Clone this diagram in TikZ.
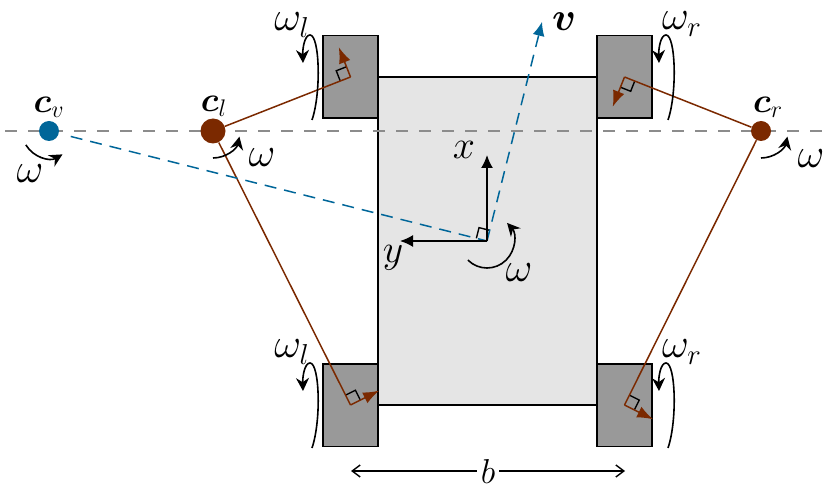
\documentclass[tikz,border=0pt]{standalone}
\usepackage{amsmath}
\usetikzlibrary{calc,arrows.meta}
\definecolor{botblue}{HTML}{006699}
\definecolor{botbrown}{HTML}{7B2900}
\tikzset{
  wheelbox/.style={draw,fill=black!40,line width=.75pt,minimum width=27.5pt,minimum height=41.25pt,inner sep=0pt},
  spin/.style={line width=.8pt,-{Stealth[length=6.5pt,width=6.5pt]}},
  link/.style={botbrown,line width=.75pt},
  label/.style={font=\LARGE,inner sep=0pt},
  omegalabel/.style={font=\huge,inner sep=0pt}
}
\begin{document}
\begin{tikzpicture}[x=.5pt,y=.5pt]
  \useasboundingbox (0,0) rectangle (829,493);

  % Body and wheels
  \node[draw,fill=black!10,line width=.75pt,minimum width=109.5pt,minimum height=164pt,inner sep=0pt] (body) at (487.5,252) {};
  \node[wheelbox] (wheelTL) at (350.5,416) {};
  \node[wheelbox] (wheelTR) at (624.5,416) {};
  \node[wheelbox] (wheelBL) at (350.5,88) {};
  \node[wheelbox] (wheelBR) at (624.5,88) {};

  % Line through the centres of rotation
  \coordinate (lineL) at (5,362);
  \coordinate (lineR) at (829,362);
  \draw[black!45,line width=.75pt,dash pattern=on 6pt off 5.5pt] (lineL) -- (lineR);

  % Centres
  \coordinate (base) at (487,252);
  \node[circle,fill=botblue,minimum size=10pt,inner sep=0pt] (cv) at (49,362) {};
  \node[circle,fill=botbrown,minimum size=12.5pt,inner sep=0pt] (cl) at (213,362) {};
  \node[circle,fill=botbrown,minimum size=10pt,inner sep=0pt] (cr) at (761,362) {};

  % Links and wheel velocities
  \foreach \w/\c in {wheelTL/cl,wheelBL/cl,wheelTR/cr,wheelBR/cr}{
    \coordinate (\w tip) at ($(\w.center)!16pt!-90:(\c)$);
    \coordinate (\w a) at ($(\w.center)!5.5pt!(\c)$);
    \coordinate (\w b) at ($(\w.center)!5.5pt!(\w tip)$);
    \draw[line width=.7pt] (\w a) -- ($(\w a)+(\w b)-(\w.center)$) -- (\w b);
    \draw[link] (\c) -- (\w.center);
    \draw[link,-{Latex[length=8pt,width=6pt]}] (\w.center) -- (\w tip);
  }

  % Velocity of the base
  \coordinate (vtip) at ($(base)!113pt!-90:(cv)$);
  \coordinate (basea) at ($(base)!5.5pt!(cv)$);
  \coordinate (baseb) at ($(base)!5.5pt!(vtip)$);
  \draw[line width=.7pt] (basea) -- ($(basea)+(baseb)-(base)$) -- (baseb);
  \draw[botblue,line width=.75pt,dash pattern=on 6pt off 4pt,shorten <=6pt] (cv) -- (base);
  \draw[botblue,line width=.75pt,dash pattern=on 6pt off 4pt,-{Latex[length=7pt,width=6pt]}] (base) -- (vtip);

  % Axes
  \coordinate (xtip) at (487,338);
  \coordinate (ytip) at (400,252);
  \draw[line width=.8pt,-{Latex[length=6.5pt,width=6pt]}] (base) -- (xtip);
  \draw[line width=.8pt,-{Latex[length=6.5pt,width=6pt]}] (base) -- (ytip);

  % Rotation arrows
  \draw[spin] ($(cv)+(211:27)$) arc (211:300:27);
  \draw[spin] ($(cl)+(270:27)$) arc (270:348:27);
  \draw[spin] ($(cr)+(270:27)$) arc (270:348:27);
  \draw[spin] ($(base)+(225:27)$) arc (225:402:27);
  \foreach \w/\dx in {wheelTL/0,wheelBL/0,wheelTR/82,wheelBR/82}{
    \begin{scope}[shift={($(\w.center)+(\dx,0)$)}]
      \draw[spin] (-38.5,-43) .. controls (-29,-15) and (-31,42) .. (-40.5,42)
        .. controls (-46,42) and (-48,28) .. (-47.5,14);
    \end{scope}
  }

  % Width of the track
  \coordinate (trackL) at (351,22);
  \coordinate (trackR) at (625,22);
  \draw[line width=.7pt,{Straight Barb[length=4pt,width=6pt]}-{Straight Barb[length=4pt,width=6pt]}] (trackL) -- node[fill=white,inner sep=2pt,font=\LARGE] (trackb) {$b$} (trackR);

  % Labels
  \node[label] (lcv) at (49,386) {$\boldsymbol{c}_v$};
  \node[label] (lcl) at (214,387) {$\boldsymbol{c}_l$};
  \node[label] (lcr) at (768,386) {$\boldsymbol{c}_r$};
  \node[label,scale=1.15] (lv) at (564,471) {$\boldsymbol{v}$};
  \node[label,scale=1.15] (lx) at (464,343) {$x$};
  \node[label,scale=1.15] (ly) at (393,235) {$y$};
  \node[omegalabel] (w1) at (30,319) {$\omega$};
  \node[omegalabel] (w2) at (262,335) {$\omega$};
  \node[omegalabel] (w3) at (811,334) {$\omega$};
  \node[omegalabel] (w4) at (519,220) {$\omega$};
  \node[omegalabel] (w5) at (292,468) {$\omega_l$};
  \node[omegalabel] (w6) at (292,141) {$\omega_l$};
  \node[omegalabel] (w7) at (682,469) {$\omega_r$};
  \node[omegalabel] (w8) at (682,141) {$\omega_r$};
\end{tikzpicture}
\end{document}
